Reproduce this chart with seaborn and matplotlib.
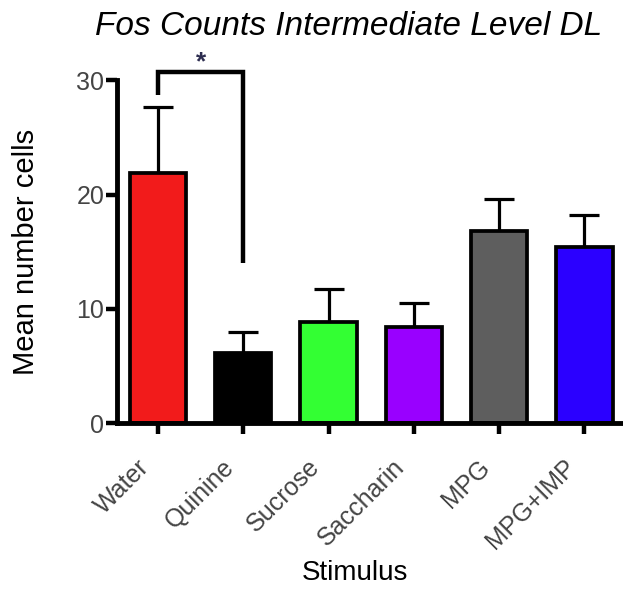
import matplotlib
matplotlib.use("Agg")
import matplotlib.pyplot as plt
import matplotlib.transforms as mtransforms
import seaborn as sns
import pandas as pd

categories = ["Water", "Quinine", "Sucrose", "Saccharin", "MPG", "MPG+IMP"]
means = [21.9, 6.1, 8.8, 8.4, 16.8, 15.4]
sem = [5.8, 1.9, 2.9, 2.1, 2.8, 2.8]
colors = ["#F21B1B", "#000000", "#33FF33", "#9900FF", "#5E5E5E", "#2B00FF"]
yticks = [0, 10, 20, 30]

sns.set_style("ticks")
plt.rcParams['font.family'] = ['Liberation Sans', 'DejaVu Sans']

df = pd.DataFrame({"Stimulus": categories, "Mean": means})

fig = plt.figure(figsize=(6.23, 5.90), dpi=100)
ax = fig.add_axes([0.1878, 0.283, 0.812, 0.581])

sns.barplot(data=df, x="Stimulus", y="Mean", hue="Stimulus", palette=colors,
            order=categories, hue_order=categories, dodge=False, legend=False,
            width=0.66, edgecolor="black", linewidth=2.7, saturation=1, ax=ax,
            errorbar=None)

ax.errorbar(range(len(categories)), means, yerr=[[0]*len(sem), sem], fmt="none",
            ecolor="black", elinewidth=2.3, capsize=11, capthick=2.3, zorder=0)

ax.set_xlim(-0.48, 5.45)
ax.set_ylim(0, 30)
ax.set_yticks(yticks)
ax.set_yticklabels([str(t) for t in yticks])

for s in ["top", "right"]:
    ax.spines[s].set_visible(False)
for s in ["left", "bottom"]:
    ax.spines[s].set_linewidth(3.5)
    ax.spines[s].set_color("black")
    ax.spines[s].set_capstyle("projecting")

ax.tick_params(axis="both", width=3.2, length=8, labelsize=18, labelcolor="#444444",
               color="black", direction="out")
ax.tick_params(axis="y", pad=1)
ax.tick_params(axis="x", pad=6)
plt.setp(ax.get_xticklabels(), rotation=45, ha="right", va="center",
         rotation_mode="anchor")
shift = mtransforms.ScaledTranslation(-0.13, -0.21, fig.dpi_scale_trans)
for lbl in ax.get_xticklabels():
    lbl.set_transform(lbl.get_transform() + shift)

ax.set_xlabel("Stimulus", fontsize=20, color="black")
ax.xaxis.set_label_coords(0.47, -0.40)
ax.set_ylabel("Mean number cells", fontsize=21, labelpad=26, color="black")
fig.text(0.56, 1 - 35 / 590, "Fos Counts Intermediate Level DL", fontsize=24,
         style="italic", ha="center", va="baseline", color="black")

# significance bracket
ax.plot([0, 0, 1, 1], [28.7, 30.7, 30.7, 14.0], color="black", lw=3.2,
        clip_on=False, solid_joinstyle="miter", solid_capstyle="butt")
ax.text(0.5, 30.95, "*", ha="center", va="baseline", fontsize=19,
        fontweight="bold", color="#2E2E50")

fig.savefig("out.png", dpi=100)
